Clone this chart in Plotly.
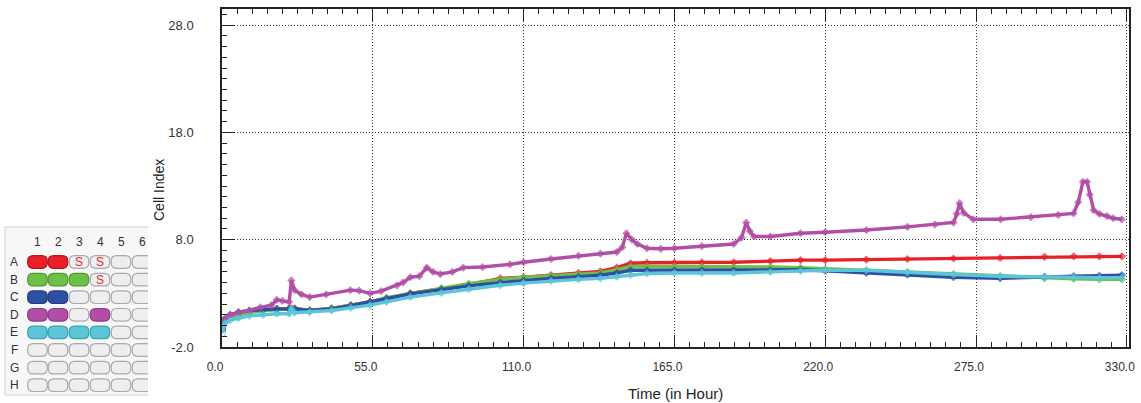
import plotly.graph_objects as go

W, H = 1141, 403

# ---------------- data ----------------
mag_t = [0, 1, 3, 6, 10, 14, 18, 20, 22, 24.5, 25.3, 26.5, 29, 32, 38, 46.8, 50, 54, 58, 63.8,
         66, 68.7, 72, 74.7, 77, 79.6, 84, 88, 95, 105, 110, 120, 130, 138, 144, 146, 147.5,
         149.5, 151.5, 155, 160, 165, 175, 186.6, 189.5, 191.2, 192.5, 194, 200, 211, 220, 235,
         250, 260, 266.8, 268, 269, 270.5, 274, 284, 295, 305, 310.6, 312.3, 314, 315.5, 316.5,
         317.9, 320, 322.8, 325, 328.2]
mag_v = [0.0, 0.6, 1.0, 1.2, 1.4, 1.7, 1.9, 2.4, 2.3, 2.2, 4.2, 3.3, 2.9, 2.65, 2.9, 3.3, 3.25, 3.0, 3.2, 3.75,
         4.0, 4.5, 4.6, 5.4, 5.0, 4.8, 5.0, 5.4, 5.45, 5.7, 5.9, 6.2, 6.5, 6.7, 6.85, 7.3, 8.6,
         8.0, 7.6, 7.2, 7.15, 7.2, 7.4, 7.6, 8.2, 9.6, 8.8, 8.3, 8.3, 8.6, 8.7, 8.9,
         9.2, 9.4, 9.6, 10.4, 11.4, 10.5, 9.9, 9.9, 10.1, 10.3, 10.45, 11.5, 13.4, 13.4, 12.2,
         10.75, 10.4, 10.2, 10.0, 9.9]

low_t = [0, 1, 3, 6, 10, 15, 20, 24.5, 25.3, 26.5, 32, 40, 47, 54, 60, 68.7, 80, 90, 101.5, 110, 120,
         130, 138, 144, 149, 155, 165, 175, 186.6, 200, 211, 220, 235, 250, 266.8, 283.8, 300,
         310.6, 320, 328.2]
red_v = [-0.1, 0.5, 0.9, 1.1, 1.3, 1.45, 1.55, 1.6, 1.6, 1.6, 1.4, 1.6, 1.9, 2.2, 2.5, 3.0, 3.4, 3.8, 4.4, 4.5, 4.7,
         4.9, 5.05, 5.4, 5.8, 5.85, 5.85, 5.9, 5.9, 6.0, 6.1, 6.1, 6.15, 6.2, 6.25, 6.3, 6.4,
         6.45, 6.45, 6.45]
green_v = [-0.3, 0.4, 0.8, 1.0, 1.2, 1.4, 1.5, 1.55, 1.55, 1.55, 1.4, 1.6, 1.9, 2.2, 2.6, 3.0, 3.5, 3.9, 4.3, 4.5, 4.65,
           4.8, 4.9, 5.2, 5.5, 5.5, 5.5, 5.5, 5.45, 5.45, 5.4, 5.3, 5.15, 5.0, 4.8, 4.6, 4.4,
           4.35, 4.3, 4.3]
blue_v = [-0.3, 0.6, 1.0, 1.25, 1.4, 1.5, 1.55, 1.55, 1.55, 1.55, 1.4, 1.55, 1.85, 2.2, 2.5, 2.95, 3.35, 3.7, 4.0, 4.2, 4.4,
          4.55, 4.7, 4.9, 5.15, 5.15, 5.15, 5.15, 5.15, 5.15, 5.2, 5.1, 4.9, 4.75, 4.5, 4.4, 4.55,
          4.6, 4.65, 4.7]
cyan_v = [-0.7, 0.2, 0.5, 0.7, 0.9, 1.0, 1.1, 1.1, 1.55, 1.2, 1.25, 1.4, 1.65, 1.9, 2.2, 2.65, 3.05, 3.4, 3.75, 3.95, 4.15,
          4.3, 4.4, 4.55, 4.7, 4.85, 4.9, 4.9, 4.9, 5.0, 5.1, 5.15, 5.15, 4.95, 4.75, 4.6, 4.5,
          4.5, 4.45, 4.45]

x_ticks = [0, 55, 110, 165, 220, 275, 330]
y_ticks = [-2, 8, 18, 28]

# well plate layout
plate_rows = ["A", "B", "C", "D", "E", "F", "G", "H"]
plate_cols = ["1", "2", "3", "4", "5", "6"]
plate_fill = [
    ["red", "red", "empty", "empty", "empty", "empty"],
    ["green", "green", "green", "empty", "empty", "empty"],
    ["blue", "blue", "empty", "empty", "empty", "empty"],
    ["magenta", "magenta", "empty", "magenta", "empty", "empty"],
    ["cyan", "cyan", "cyan", "cyan", "empty", "empty"],
    ["empty"] * 6, ["empty"] * 6, ["empty"] * 6,
]
plate_marks = {("A", "3"): "S", ("A", "4"): "S", ("B", "4"): "S"}

colors = {"red": "#e8202a", "green": "#6cbf47", "blue": "#2f4fa2",
          "magenta": "#b14fa7", "cyan": "#5cc5d8", "empty": "#eeeeee"}
borders = {"red": "#c01018", "green": "#4f9a30", "blue": "#1f3a80",
           "magenta": "#8e3886", "cyan": "#3aa3b8", "empty": "#a9a9a9"}

fig = go.Figure()

def add_series(t, v, key, name):
    sym = ["circle-open"] + ["diamond"] * (len(t) - 1)
    sizes = [7] + [5] * (len(t) - 1)
    fig.add_trace(go.Scatter(x=t, y=v, mode="lines+markers", name=name,
                             line=dict(color=colors[key], width=3.4),
                             marker=dict(color=colors[key], size=sizes, symbol=sym,
                                         line=dict(color=colors[key], width=1.2)),
                             showlegend=False))

add_series(low_t, red_v, "red", "A")
add_series(low_t, green_v, "green", "B")
add_series(low_t, blue_v, "blue", "C")
add_series(mag_t, mag_v, "magenta", "D")
add_series(low_t, cyan_v, "cyan", "E")

xfont = dict(family="Liberation Sans, Arial", size=12, color="#333")
yfont = dict(family="Liberation Sans, Arial", size=13, color="#333")

fig.update_layout(
    width=W, height=H, margin=dict(l=0, r=0, t=0, b=0),
    paper_bgcolor="white", plot_bgcolor="white",
    xaxis=dict(domain=[222 / W, 1129 / W], range=[0, 330.8], tickvals=x_ticks,
               ticktext=[f"{v:.1f}" for v in x_ticks], tickfont=xfont,
               ticks="inside", ticklen=12, tickcolor="#222", tickwidth=1,
               minor=dict(dtick=5.5, tick0=0, ticks="inside", ticklen=5, tickcolor="#222", showgrid=False),
               showline=True, linecolor="#222", linewidth=1.5, mirror="ticks",
               showgrid=True, gridcolor="#333", griddash="1px,2px", gridwidth=1,
               zeroline=False, ticklabelstandoff=8, ticklabelshift=-7,
               automargin=False, ticklabeloverflow="allow"),
    yaxis=dict(domain=[1 - 347 / H, 1 - 9 / H], range=[-2, 29.5], tickvals=y_ticks,
               ticktext=[f"{v:.1f}" for v in y_ticks], tickfont=yfont,
               ticks="inside", ticklen=13, tickcolor="#222", tickwidth=1,
               minor=dict(dtick=1, tick0=-2, ticks="inside", ticklen=5, tickcolor="#222", showgrid=False),
               showline=True, linecolor="#222", linewidth=1.5, mirror=True,
               showgrid=True, gridcolor="#333", griddash="1px,2px", gridwidth=1,
               zeroline=False, ticklabelstandoff=24, automargin=False, ticklabeloverflow="allow"),
    xaxis2=dict(domain=[0, 148 / W], range=[0, 148], visible=False, fixedrange=True),
    yaxis2=dict(domain=[1 - 400 / H, 1 - 222 / H], range=[400, 222], visible=False, fixedrange=True),
)

# invisible anchor trace for the plate axes
fig.add_trace(go.Scatter(x=[0], y=[400], xaxis="x2", yaxis="y2", mode="markers",
                         marker=dict(size=1, opacity=0), showlegend=False, hoverinfo="skip"))

# axis titles
fig.add_annotation(text="Time (in Hour)", xref="paper", yref="paper", x=675.5 / W, y=1 - 393 / H,
                   xanchor="center", yanchor="middle", showarrow=False,
                   font=dict(family="Liberation Sans, Arial", size=15, color="#222"))
fig.add_annotation(text="Cell Index", xref="paper", yref="paper", x=159 / W, y=1 - 190 / H,
                   xanchor="center", yanchor="middle", showarrow=False, textangle=-90,
                   font=dict(family="Liberation Sans, Arial", size=14, color="#222"))

# ---------------- well plate ----------------
shapes = []
shapes.append(dict(type="rect", xref="x2", yref="y2", x0=5, x1=160, y0=227, y1=395,
                   fillcolor="#f7f7f7", line=dict(color="#cfcfcf", width=1), layer="below"))
col_x = [37.5, 58, 79, 100, 121, 142]
row_y = [262 + i * 17.6 for i in range(8)]

def rounded(x0, y0, x1, y1, r):
    return (f"M {x0 + r},{y0} L {x1 - r},{y0} Q {x1},{y0} {x1},{y0 + r} "
            f"L {x1},{y1 - r} Q {x1},{y1} {x1 - r},{y1} L {x0 + r},{y1} "
            f"Q {x0},{y1} {x0},{y1 - r} L {x0},{y0 + r} Q {x0},{y0} {x0 + r},{y0} Z")

for ri, rname in enumerate(plate_rows):
    for ci, cname in enumerate(plate_cols):
        key = plate_fill[ri][ci]
        cx, cy = col_x[ci], row_y[ri]
        shapes.append(dict(type="path", xref="x2", yref="y2",
                           path=rounded(cx - 9.8, cy - 6.3, cx + 9.8, cy + 6.3, 5.5),
                           fillcolor=colors[key], line=dict(color=borders[key], width=1.2)))
        mark = plate_marks.get((rname, cname))
        if mark:
            fig.add_annotation(text=mark, xref="x2", yref="y2", x=cx, y=cy, showarrow=False,
                               font=dict(family="Liberation Sans, Arial", size=12, color="#e0302a"))
for ci, cname in enumerate(plate_cols):
    fig.add_annotation(text=cname, xref="x2", yref="y2", x=col_x[ci], y=242, showarrow=False,
                       font=dict(family="Liberation Sans, Arial", size=12, color="#333"))
for ri, rname in enumerate(plate_rows):
    fig.add_annotation(text=rname, xref="x2", yref="y2", x=14, y=row_y[ri], showarrow=False,
                       font=dict(family="Liberation Sans, Arial", size=12, color="#333"))

fig.update_layout(shapes=shapes)
fig.write_html("out.html", config={"displayModeBar": False},
               post_script="document.body.style.margin='0';")
